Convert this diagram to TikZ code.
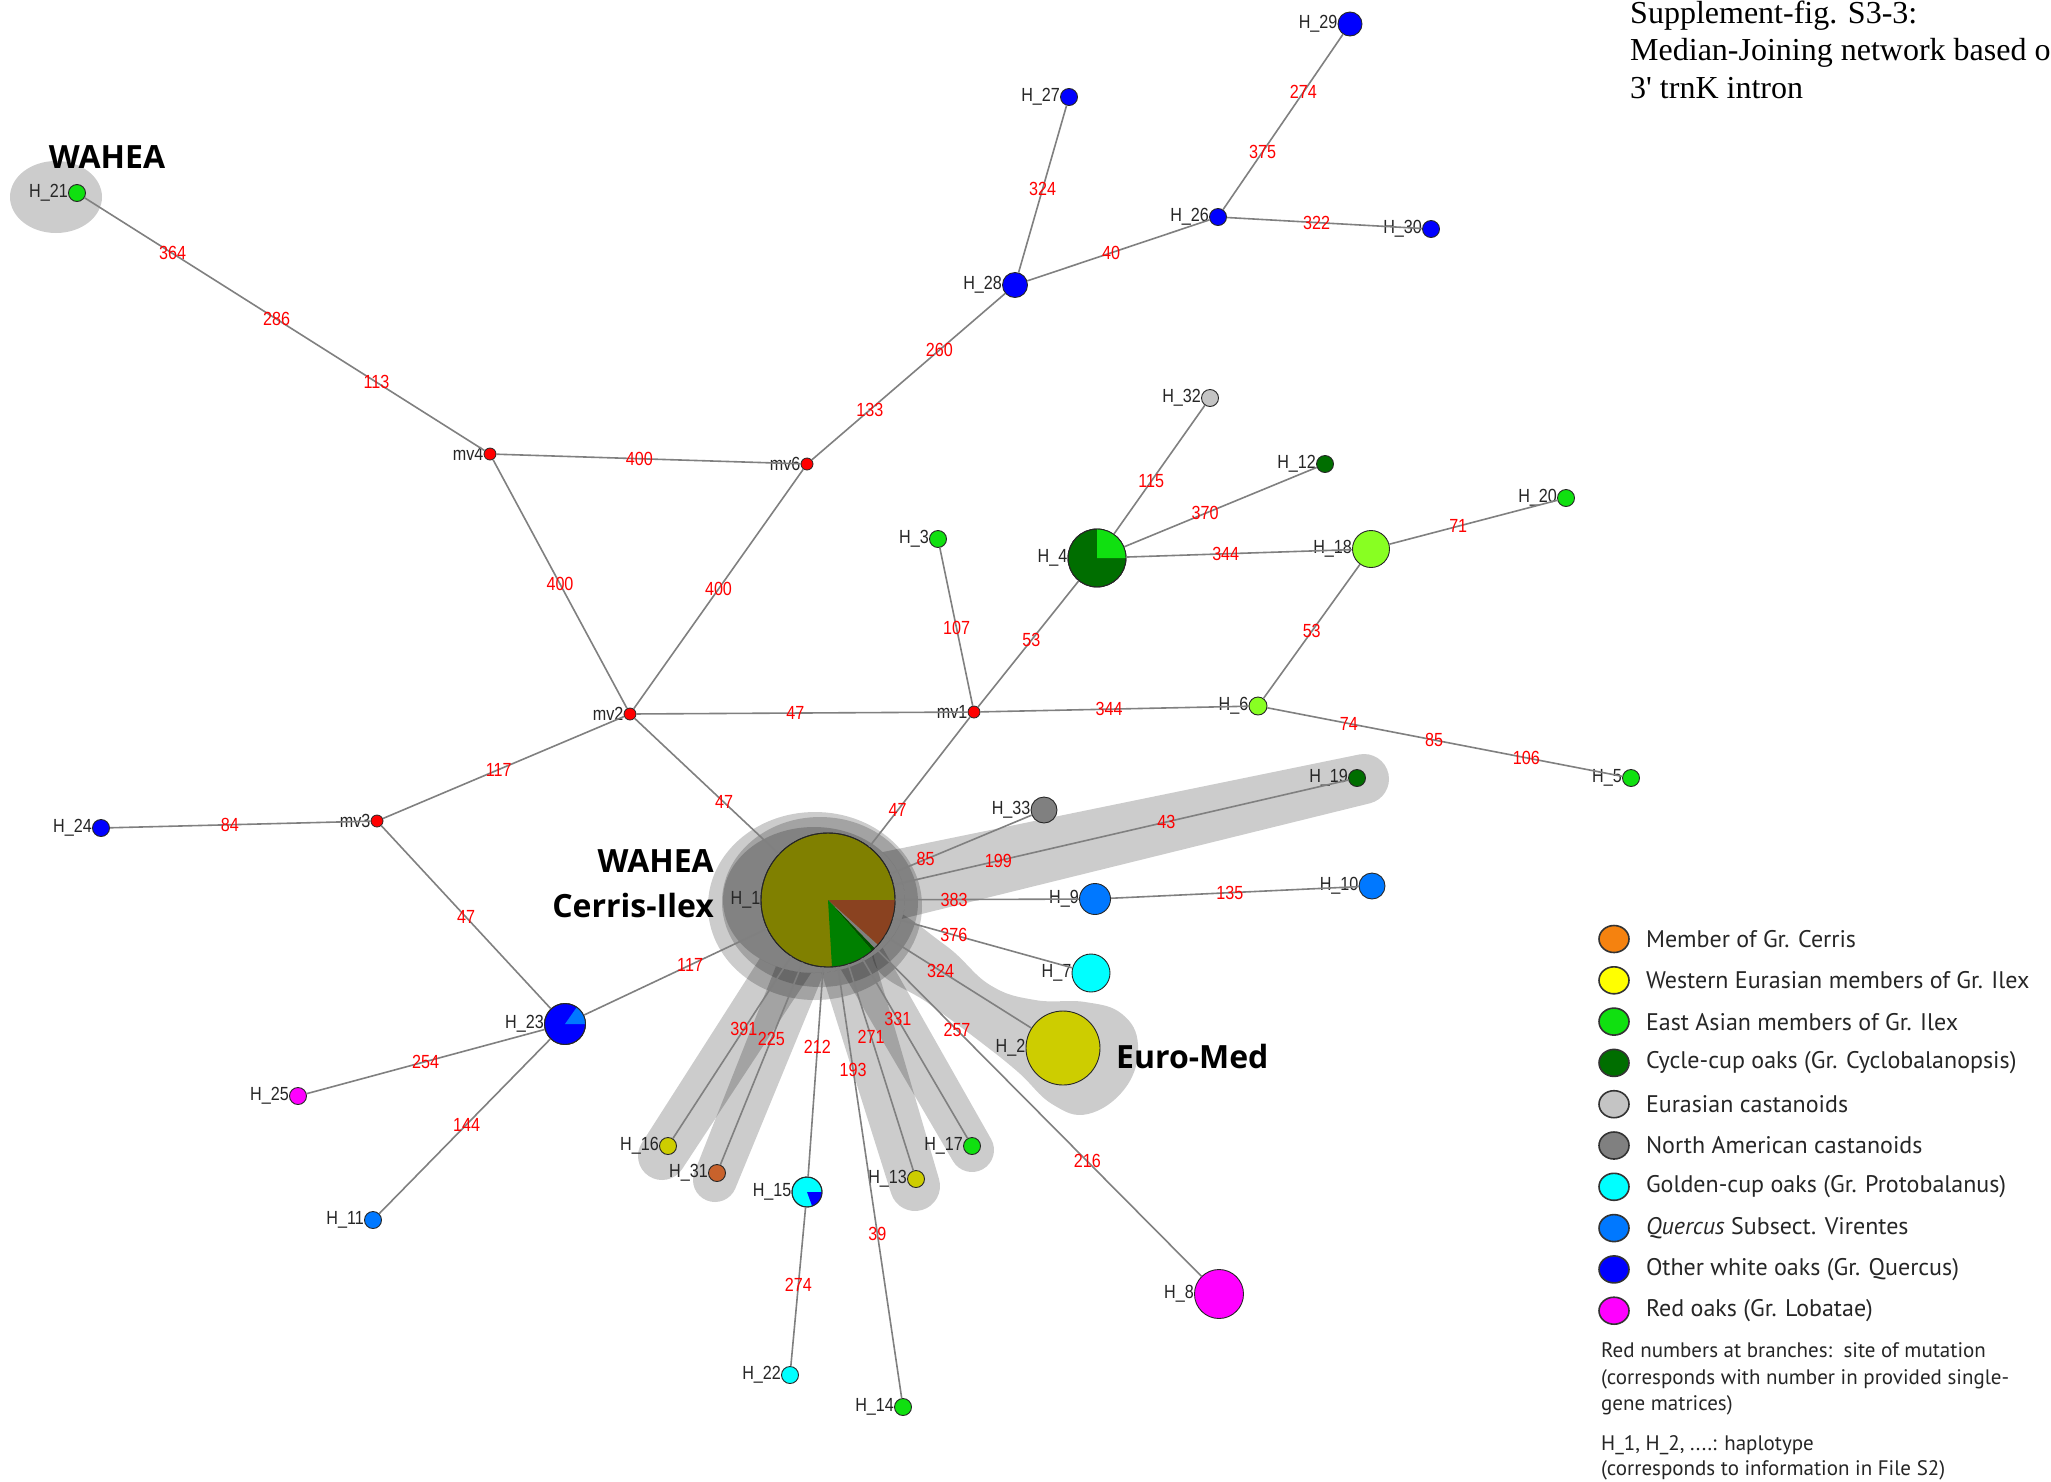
\documentclass[tikz,border=0pt]{standalone}
\usepackage{fontspec}
\setmainfont{Liberation Serif}
\newfontfamily\netfont[FakeStretch=0.85]{Liberation Sans}
\newfontfamily\legfont{PT Sans}
\newfontfamily\tagfont{Open Sans}
\usetikzlibrary{calc,positioning,shapes.geometric}

\definecolor{eag}{HTML}{10E010}
\definecolor{ccup}{HTML}{006E00}
\definecolor{lime}{HTML}{88FF22}
\definecolor{blueQ}{HTML}{0000FF}
\definecolor{vir}{HTML}{0078FF}
\definecolor{goldc}{HTML}{00FFFF}
\definecolor{redoak}{HTML}{FF00FF}
\definecolor{castE}{HTML}{C4C4C4}
\definecolor{castN}{HTML}{808080}
\definecolor{ilexY}{HTML}{CDCD00}
\definecolor{ilexL}{HTML}{FFFF00}
\definecolor{cerN}{HTML}{C8622C}
\definecolor{cerL}{HTML}{F5820F}
\definecolor{oliveP}{HTML}{808000}
\definecolor{brownP}{HTML}{8A4220}
\definecolor{greenP}{HTML}{008000}
\definecolor{dgreenP}{HTML}{004F00}

\begin{document}
\begin{tikzpicture}
  [
    x=1pt, y=-1pt,
    hap/.style   = {draw=black!85, circle, inner sep=0pt, line width=0.9pt, label distance=2pt},
    mv/.style    = {draw=black!85, circle, fill=red, inner sep=0pt, minimum size=12pt, line width=0.8pt, label distance=1pt},
    edge/.style  = {draw=black!50, line width=1.6pt},
    mut/.style   = {font=\fontsize{19}{19}\netfont, text=red, inner sep=0pt},
    hlab/.style  = {font=\fontsize{19}{19}\netfont, text=black!85, inner sep=0pt},
    halo/.style  = {fill=black, fill opacity=0.2},
    tag/.style   = {font=\fontsize{32}{36}\tagfont\bfseries, inner sep=0pt},
    key/.style   = {draw=black!80, ellipse, line width=1.6pt, minimum width=30pt, minimum height=27pt, inner sep=0pt},
    legtext/.style = {font=\fontsize{24}{28}\legfont, text=black!85, inner sep=0pt, anchor=west},
    note/.style  = {font=\fontsize{21}{26.5}\legfont, text=black!85, inner sep=0pt, anchor=base west},
  ]

%Page frame
\useasboundingbox (0,0) rectangle (2051,1481);
\fill[white] (0,0) rectangle (2051,1481);

%Hull of two circles: x1,y1,r1,x2,y2,r2
\def\capsule#1#2#3#4#5#6{
  \pgfmathsetmacro\cth{atan2((#5)-(#2),(#4)-(#1))}
  \pgfmathsetmacro\cph{acos(((#3)-(#6))/veclen((#4)-(#1),(#5)-(#2)))}
  \fill[halo] ($(#1,#2)+(\cth+\cph:#3)$) arc[start angle=\cth+\cph, end angle=\cth+360-\cph, radius=#3]
    -- ($(#4,#5)+(\cth-\cph:#6)$) arc[start angle=\cth-\cph, end angle=\cth+\cph, radius=#6] -- cycle;
}
%Pie sector: node, from, to, radius, colour
\def\sect#1#2#3#4#5{\fill[#5] (#1.center) -- ++(#2:#4) arc[start angle=#2, end angle=#3, radius=#4] -- cycle;}

%Grey groups
\fill[halo] (56,197) ellipse [x radius=46, y radius=36];
\fill[halo] (815,906) ellipse [x radius=107, y radius=94];
\fill[halo] (820,902) ellipse [x radius=98, y radius=85];
\fill[halo] (814,900) ellipse [x radius=91, y radius=73];
\begin{scope}[even odd rule]
  \clip (0,0) rectangle (2051,1481) (814,900) ellipse [x radius=91, y radius=73];
  \capsule{828}{900}{36}{1364}{779}{25}
  \capsule{828}{900}{26}{662}{1156}{24}
  \capsule{828}{900}{24}{715}{1180}{22}
  \capsule{828}{900}{28}{915}{1186}{25}
  \capsule{828}{900}{24}{972}{1150}{22}
  \fill[halo] plot[smooth cycle, tension=0.7] coordinates {(885,910) (945,945) (990,985) (1035,1000) (1085,1002) (1122,1014) (1138,1045) (1126,1087) (1088,1114) (1052,1104) (1018,1072) (978,1040) (928,1003) (875,965)};
\end{scope}

%Haplotypes
\foreach \n/\x/\y/\rad/\col/\lab in {
  H1/828/900/67/oliveP/H\_1, H2/1063/1048/37/ilexY/H\_2, H3/938/539/8.5/eag/H\_3,
  H4/1097/558/29/ccup/H\_4, H5/1631/778/8.5/eag/H\_5, H6/1258/706/9/lime/H\_6,
  H7/1091/973/19/goldc/H\_7, H8/1219/1294/24.5/redoak/H\_8, H9/1095/899/15.5/vir/H\_9,
  H10/1372/886/13/vir/H\_10, H11/373/1220/8.5/vir/H\_11, H12/1325/464/8.5/ccup/H\_12,
  H13/916/1179/8.5/ilexY/H\_13, H14/903/1407/8.5/eag/H\_14, H15/807/1192/15/goldc/H\_15,
  H16/668/1146/8.5/ilexY/H\_16, H17/972/1146/8.5/eag/H\_17, H18/1371/549/18.5/lime/H\_18,
  H19/1357/778/8.5/ccup/H\_19, H20/1566/498/8.5/eag/H\_20, H21/77/193/8.5/eag/H\_21,
  H22/790/1375/8.5/goldc/H\_22, H23/565/1024/20.5/blueQ/H\_23, H24/101/828/8.5/blueQ/H\_24,
  H25/298/1096/8.5/redoak/H\_25, H26/1218/217/8.5/blueQ/H\_26, H27/1069/97/8.5/blueQ/H\_27,
  H28/1015/285/12.5/blueQ/H\_28, H29/1350/24/12/blueQ/H\_29, H30/1431/229/8.5/blueQ/H\_30,
  H31/717/1173/8.5/cerN/H\_31, H32/1210/398/8.5/castE/H\_32, H33/1044/810/13/castN/H\_33}
{
  \node[hap, minimum size=2*\rad, fill=\col, label={[hlab]left:\lab}] (\n) at (\x,\y) {};
}
\foreach \n/\x/\y in {mv1/974/712, mv2/630/714, mv3/377/821, mv4/490/454, mv6/807/464}
{
  \node[mv, label={[hlab]left:\n}] (\n) at (\x,\y) {};
}

%Shared haplotypes
\sect{H1}{0}{42}{67}{brownP}
\sect{H1}{42}{46}{67}{castN}
\sect{H1}{46}{49}{67}{dgreenP}
\sect{H1}{49}{86.6}{67}{greenP}
\draw[black!85, line width=0.9pt] (H1.center) circle[radius=67];
\sect{H4}{-90}{0}{29}{eag}
\draw[black!85, line width=0.9pt] (H4.center) circle[radius=29];
\sect{H23}{-55}{0}{20.5}{vir}
\draw[black!85, line width=0.9pt] (H23.center) circle[radius=20.5];
\sect{H15}{0}{70}{15}{blueQ}
\draw[black!85, line width=0.9pt] (H15.center) circle[radius=15];

%Branches with mutation sites
\draw[edge] (H21) -- node[mut,pos=.22]{364} node[mut,pos=.48]{286} node[mut,pos=.73]{113} (mv4);
\draw[edge] (mv4) -- node[mut,pos=.47]{400} (mv6);
\draw[edge] (mv4) -- node[mut,pos=.5]{400} (mv2);
\draw[edge] (mv6) -- node[mut,pos=.5]{400} (mv2);
\draw[edge] (mv6) -- node[mut,pos=.30]{133} node[mut,pos=.66]{260} (H28);
\draw[edge] (H28) -- node[mut,pos=.5]{324} (H27);
\draw[edge] (H28) -- node[mut,pos=.46]{40} (H26);
\draw[edge] (H26) -- node[mut,pos=.33]{375} node[mut,pos=.67]{274} (H29);
\draw[edge] (H26) -- node[mut,pos=.46]{322} (H30);
\draw[edge] (mv2) -- node[mut,pos=.48]{47} (mv1);
\draw[edge] (mv2) -- node[mut,pos=.52]{117} (mv3);
\draw[edge] (mv2) -- node[mut,pos=.62]{47} (H1);
\draw[edge] (mv1) -- node[mut,pos=.72]{47} (H1);
\draw[edge] (mv1) -- node[mut,pos=.49]{107} (H3);
\draw[edge] (mv1) -- node[mut,pos=.53]{53} (H4);
\draw[edge] (mv1) -- node[mut,pos=.48]{344} (H6);
\draw[edge] (H4) -- node[mut,pos=.41]{115} (H32);
\draw[edge] (H4) -- node[mut,pos=.42]{370} (H12);
\draw[edge] (H4) -- node[mut,pos=.44]{344} (H18);
\draw[edge] (H18) -- node[mut,pos=.41]{71} (H20);
\draw[edge] (H18) -- node[mut,pos=.50]{53} (H6);
\draw[edge] (H6) -- node[mut,pos=.23]{74} node[mut,pos=.47]{85} node[mut,pos=.73]{106} (H5);
\draw[edge] (mv3) -- node[mut,pos=.54]{84} (H24);
\draw[edge] (mv3) -- node[mut,pos=.50]{47} (H23);
\draw[edge] (H1) -- node[mut,pos=.42]{117} (H23);
\draw[edge] (H23) -- node[mut,pos=.50]{254} (H25);
\draw[edge] (H23) -- node[mut,pos=.49]{144} (H11);
\draw[edge] (H1) -- node[mut,pos=.25]{85} (H33);
\draw[edge] (H1) -- node[mut,pos=.23]{199} node[mut,pos=.60]{43} (H19);
\draw[edge] (H1) -- node[mut,pos=.32]{383} (H9);
\draw[edge] (H9) -- node[mut,pos=.48]{135} (H10);
\draw[edge] (H1) -- node[mut,pos=.34]{376} (H7);
\draw[edge] (H1) -- node[mut,pos=.38]{324} (H2);
\draw[edge] (H1) -- node[mut,pos=.25]{257} node[mut,pos=.65]{216} (H8);
\draw[edge] (H1) -- node[mut,pos=.34]{331} (H17);
\draw[edge] (H1) -- node[mut,pos=.35]{271} (H13);
\draw[edge] (H1) -- node[mut,pos=.24]{193} node[mut,pos=.62]{39} (H14);
\draw[edge] (H1) -- node[mut,pos=.38]{212} (H15);
\draw[edge] (H15) -- node[mut,pos=.49]{274} (H22);
\draw[edge] (H1) -- node[mut,pos=.40]{391} (H16);
\draw[edge] (H1) -- node[mut,pos=.38]{225} (H31);

%Group names
\node[tag] (wahea) at (107,157) {WAHEA};
\node[tag, anchor=east] (waheaB) at (714,861) {WAHEA};
\node[tag, anchor=east] (cerris) at (714,905) {Cerris-Ilex};
\node[tag, anchor=west] (euromed) at (1116,1056) {Euro-Med};

%Title
\node[anchor=base west, inner sep=0pt, font=\fontsize{32}{37}\selectfont] (title1) at (1630,23) {Supplement-fig. S3-3:};
\node[anchor=base west, inner sep=0pt, font=\fontsize{32}{37}\selectfont] (title2) at (1630,60) {Median-Joining network based on};
\node[anchor=base west, inner sep=0pt, font=\fontsize{32}{37}\selectfont] (title3) at (1630,98) {3\textquotesingle{} trnK intron};

%Legend
\foreach [count=\i] \col/\txt in {cerL/Member of Gr. Cerris, ilexL/Western Eurasian members of Gr. Ilex,
  eag/East Asian members of Gr. Ilex, ccup/Cycle-cup oaks (Gr. Cyclobalanopsis),
  castE/Eurasian castanoids, castN/North American castanoids,
  goldc/Golden-cup oaks (Gr. Protobalanus), vir/{\itshape Quercus} Subsect. Virentes,
  blueQ/Other white oaks (Gr. Quercus), redoak/Red oaks (Gr. Lobatae)}
{
  \node[key, fill=\col] (k\i) at (1614,{939+(\i-1)*41.3}) {};
  \node[legtext, right=16pt of k\i] (t\i) {\txt};
}
\node[note] (note1) at (1601,1357) {Red numbers at branches:\ \ site of mutation};
\node[note] (note2) at (1601,1384) {(corresponds with number in provided single-};
\node[note] (note3) at (1601,1410) {gene matrices)};
\node[note] (note4) at (1601,1450) {H\_1, H\_2, ....: haplotype};
\node[note] (note5) at (1601,1475) {(corresponds to information in File S2)};
\end{tikzpicture}
\end{document}
